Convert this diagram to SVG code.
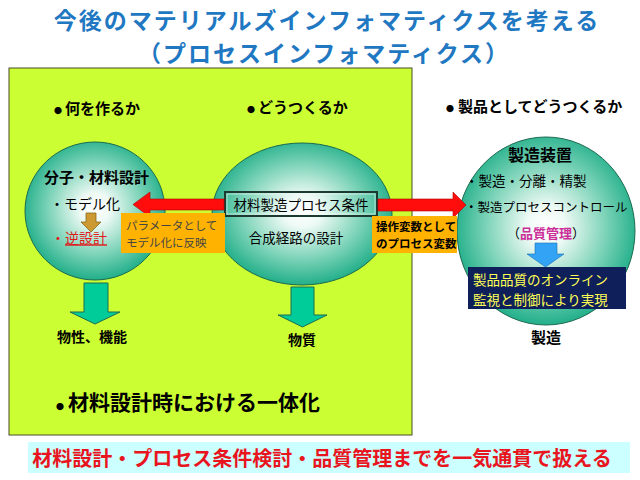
<svg xmlns="http://www.w3.org/2000/svg" width="640" height="480" viewBox="0 0 640 480">
<defs>
<radialGradient id="ball" cx="0.5" cy="0.48" r="0.55">
<stop offset="0" stop-color="#ffffff"/>
<stop offset="0.2" stop-color="#eefaf5"/>
<stop offset="0.6" stop-color="#7fd4b9"/>
<stop offset="1" stop-color="#13a982"/>
</radialGradient>
<style>
text{font-family:"Noto Sans CJK JP","Noto Sans CJK SC",sans-serif;fill:#000}
.b{font-weight:bold}
.title{font-size:23px;font-weight:bold;fill:#1f78c1;letter-spacing:2px}
.ball{fill:url(#ball);stroke:#1c6a4f;stroke-width:1}
.red{fill:#ff0d0d;stroke:#b00000;stroke-width:0.6}
.grn{fill:#00cc99;stroke:#1d6b52;stroke-width:1}
.org{fill:#ffb300}
.dot{font-size:8px}
</style>
</defs>
<rect width="640" height="480" fill="#ffffff"/>
<g id="title">
<text class="title" x="327" y="28.5" text-anchor="middle">今後のマテリアルズインフォマティクスを考える</text>
<text class="title" x="324" y="62" text-anchor="middle">（プロセスインフォマティクス）</text>
</g>
<g id="panel">
<rect x="9" y="68" width="403" height="367" fill="#ccff33" stroke="#4a4a2a" stroke-width="1"/>
<text class="b" x="54" y="113.7" font-size="15"><tspan class="dot">●</tspan><tspan x="65">何を作るか</tspan></text>
<text class="b" x="247" y="112.7" font-size="15"><tspan class="dot">●</tspan><tspan x="258">どうつくるか</tspan></text>
<text x="56" y="410" font-size="21" class="b"><tspan class="dot" font-size="9">●</tspan><tspan x="68">材料設計時における一体化</tspan></text>
</g>
<text class="b" x="446" y="112" font-size="15"><tspan class="dot">●</tspan><tspan x="458">製品としてどうつくるか</tspan></text>
<g id="node-design">
<ellipse class="ball" cx="95" cy="211" rx="70" ry="69"/>
<text class="b" x="44" y="182.7" font-size="15">分子・材料設計</text>
<text x="50" y="209.3" font-size="14">・モデル化</text>
<text x="51" y="243.3" font-size="14" style="fill:#e01818"><tspan>・</tspan><tspan text-decoration="underline">逆設計</tspan></text>
</g>
<g id="node-process">
<ellipse class="ball" cx="302" cy="214" rx="90" ry="71"/>
<rect x="225" y="192" width="152" height="24" fill="none" stroke="#1d3a30" stroke-width="2"/>
<rect x="227" y="194" width="148" height="20" fill="none" stroke="#ffffff" stroke-width="0.8" opacity="0.7"/>
<text x="301" y="210" font-size="13.5" text-anchor="middle">材料製造プロセス条件</text>
<text x="296" y="243" font-size="13.5" text-anchor="middle">合成経路の設計</text>
</g>
<g id="node-manufacture">
<ellipse class="ball" cx="546" cy="231" rx="89" ry="94"/>
<text class="b" x="540" y="161" font-size="16" text-anchor="middle">製造装置</text>
<text x="465" y="186" font-size="13.5">・製造・分離・精製</text>
<text x="465" y="212" font-size="12.5">・製造プロセスコントロール</text>
<text x="546" y="238" font-size="13" text-anchor="middle">（<tspan class="b" style="fill:#cc2e99">品質管理</tspan>）</text>
<rect x="468" y="267" width="158" height="42" fill="#0f1f5a"/>
<text x="473" y="284.5" font-size="13.5" style="fill:#ffff55">製品品質のオンライン</text>
<text x="473" y="304.5" font-size="13.5" style="fill:#ffff55">監視と制御により実現</text>
</g>
<g id="connectors">
<path class="red" d="M224,199 L150,199 L150,192 L133,204.5 L150,217 L150,210 L224,210 Z"/>
<path class="red" d="M378,199 L453,199 L453,192 L466,205 L453,218 L453,211 L378,211 Z"/>
<path d="M86,213 L96,213 L96,222 L101,222 L91,232 L81,222 L86,222 Z" fill="#cc9933" stroke="#8a6a1a" stroke-width="0.8"/>
<path class="grn" d="M84,283 L108,283 L108,312 L120,312 L95,324 L70,312 L84,312 Z"/>
<path class="grn" d="M291,287 L314,287 L314,315 L327,315 L302.5,327 L278,315 L291,315 Z"/>
<path d="M535,243 L557,243 L557,254 L564,254 L545.5,267 L527,254 L535,254 Z" fill="#33a3f5" stroke="#1a6fb0" stroke-width="0.6"/>
</g>
<g id="label-param">
<rect class="org" x="121" y="213" width="104" height="40"/>
<text x="126" y="230" font-size="11.5" style="fill:#444">パラメータとして</text>
<text x="126" y="247" font-size="11.5" style="fill:#444">モデル化に反映</text>
</g>
<g id="label-opvar">
<rect class="org" x="372" y="216" width="85" height="37"/>
<text class="b" x="376" y="231" font-size="11.5">操作変数として</text>
<text class="b" x="376" y="248" font-size="11.5">のプロセス変数</text>
</g>
<g id="outputs">
<text class="b" x="57" y="342" font-size="14">物性、機能</text>
<text class="b" x="288" y="345" font-size="14">物質</text>
<text class="b" x="531" y="343" font-size="15">製造</text>
</g>
<g id="summary">
<rect x="28" y="442" width="602" height="31" fill="#ccffff"/>
<text class="b" x="322" y="466" font-size="20" text-anchor="middle" style="fill:#e8141e">材料設計・プロセス条件検討・品質管理までを一気通貫で扱える</text>
</g>
</svg>
